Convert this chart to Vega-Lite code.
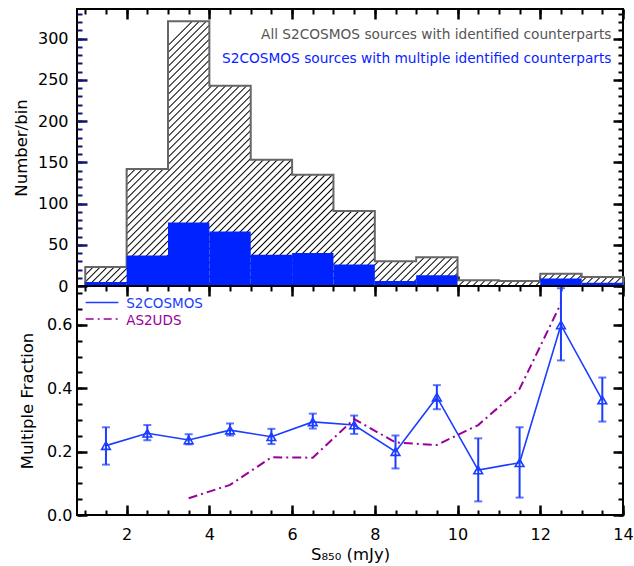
{
  "$schema": "https://vega.github.io/schema/vega-lite/v6.json",
  "padding": {"left": 12, "top": 6, "right": 0, "bottom": 0},
  "config": {
    "view": {"stroke": "#000", "strokeWidth": 2},
    "font": "DejaVu Sans",
    "axis": {"domain": false, "ticks": true, "tickColor": "#000000", "tickWidth": 2, "tickOpacity": 1, "labelFont": "DejaVu Sans", "labelFontSize": 16, "labelColor": "#000", "titleFont": "DejaVu Sans", "titleFontSize": 16.5, "titleFontWeight": "normal", "titleColor": "#000", "grid": false, "labelOverlap": false, "labelFlush": false}
  },
  "datasets": {
    "bins": [
      {"lo": 1, "hi": 2, "all": 23, "multi": 5},
      {"lo": 2, "hi": 3, "all": 142, "multi": 37},
      {"lo": 3, "hi": 4, "all": 321, "multi": 77},
      {"lo": 4, "hi": 5, "all": 243, "multi": 66},
      {"lo": 5, "hi": 6, "all": 153, "multi": 38},
      {"lo": 6, "hi": 7, "all": 135, "multi": 40},
      {"lo": 7, "hi": 8, "all": 91, "multi": 26},
      {"lo": 8, "hi": 9, "all": 30, "multi": 6},
      {"lo": 9, "hi": 10, "all": 35, "multi": 13},
      {"lo": 10, "hi": 11, "all": 7, "multi": 1},
      {"lo": 11, "hi": 12, "all": 6, "multi": 1},
      {"lo": 12, "hi": 13, "all": 15, "multi": 9},
      {"lo": 13, "hi": 14, "all": 11, "multi": 4}
    ],
    "frac": [
      {"s": 1.5, "f": 0.219, "lo": 0.159, "hi": 0.277},
      {"s": 2.5, "f": 0.258, "lo": 0.236, "hi": 0.284},
      {"s": 3.5, "f": 0.237, "lo": 0.223, "hi": 0.255},
      {"s": 4.5, "f": 0.268, "lo": 0.251, "hi": 0.289},
      {"s": 5.5, "f": 0.247, "lo": 0.224, "hi": 0.272},
      {"s": 6.5, "f": 0.294, "lo": 0.273, "hi": 0.320},
      {"s": 7.5, "f": 0.284, "lo": 0.256, "hi": 0.314},
      {"s": 8.5, "f": 0.200, "lo": 0.147, "hi": 0.251},
      {"s": 9.5, "f": 0.372, "lo": 0.334, "hi": 0.410},
      {"s": 10.5, "f": 0.142, "lo": 0.043, "hi": 0.242},
      {"s": 11.5, "f": 0.165, "lo": 0.055, "hi": 0.277},
      {"s": 12.5, "f": 0.600, "lo": 0.488, "hi": 0.716},
      {"s": 13.5, "f": 0.363, "lo": 0.295, "hi": 0.434}
    ],
    "uds": [
      {"s": 3.5, "f": 0.053},
      {"s": 4.5, "f": 0.095},
      {"s": 5.5, "f": 0.182},
      {"s": 6.5, "f": 0.181},
      {"s": 7.5, "f": 0.303},
      {"s": 8.5, "f": 0.229},
      {"s": 9.5, "f": 0.221},
      {"s": 10.5, "f": 0.284},
      {"s": 11.5, "f": 0.398},
      {"s": 12.5, "f": 0.668}
    ]
  },
  "spacing": 0,
  "bounds": "flush",
  "vconcat": [
    {
      "width": 546,
      "height": 277,
      "resolve": {"axis": {"x": "independent", "y": "independent"}},
      "layer": [
        {
          "data": {"name": "bins"},
          "transform": [
            {"fold": ["lo", "hi"], "as": ["edge", "xpos"]}
          ],
          "mark": {
            "type": "area",
            "stroke": "#666666",
            "strokeWidth": 2,
            "fill": {
              "gradient": "linear", "x1": 0.155, "y1": 0.076, "x2": 1.201, "y2": 0.591,
              "stops": [
{"offset":0.003,"color":"#fff"},{"offset":0.005,"color":"#000"},{"offset":0.007,"color":"#fff"},
{"offset":0.013,"color":"#fff"},{"offset":0.015,"color":"#000"},{"offset":0.017,"color":"#fff"},
{"offset":0.023,"color":"#fff"},{"offset":0.025,"color":"#000"},{"offset":0.027,"color":"#fff"},
{"offset":0.033,"color":"#fff"},{"offset":0.035,"color":"#000"},{"offset":0.037,"color":"#fff"},
{"offset":0.043,"color":"#fff"},{"offset":0.045,"color":"#000"},{"offset":0.047,"color":"#fff"},
{"offset":0.053,"color":"#fff"},{"offset":0.055,"color":"#000"},{"offset":0.057,"color":"#fff"},
{"offset":0.063,"color":"#fff"},{"offset":0.065,"color":"#000"},{"offset":0.067,"color":"#fff"},
{"offset":0.073,"color":"#fff"},{"offset":0.075,"color":"#000"},{"offset":0.077,"color":"#fff"},
{"offset":0.083,"color":"#fff"},{"offset":0.085,"color":"#000"},{"offset":0.087,"color":"#fff"},
{"offset":0.093,"color":"#fff"},{"offset":0.095,"color":"#000"},{"offset":0.097,"color":"#fff"},
{"offset":0.103,"color":"#fff"},{"offset":0.105,"color":"#000"},{"offset":0.107,"color":"#fff"},
{"offset":0.113,"color":"#fff"},{"offset":0.115,"color":"#000"},{"offset":0.117,"color":"#fff"},
{"offset":0.123,"color":"#fff"},{"offset":0.125,"color":"#000"},{"offset":0.127,"color":"#fff"},
{"offset":0.133,"color":"#fff"},{"offset":0.135,"color":"#000"},{"offset":0.137,"color":"#fff"},
{"offset":0.143,"color":"#fff"},{"offset":0.145,"color":"#000"},{"offset":0.147,"color":"#fff"},
{"offset":0.153,"color":"#fff"},{"offset":0.155,"color":"#000"},{"offset":0.157,"color":"#fff"},
{"offset":0.163,"color":"#fff"},{"offset":0.165,"color":"#000"},{"offset":0.167,"color":"#fff"},
{"offset":0.173,"color":"#fff"},{"offset":0.175,"color":"#000"},{"offset":0.177,"color":"#fff"},
{"offset":0.183,"color":"#fff"},{"offset":0.185,"color":"#000"},{"offset":0.187,"color":"#fff"},
{"offset":0.193,"color":"#fff"},{"offset":0.195,"color":"#000"},{"offset":0.197,"color":"#fff"},
{"offset":0.203,"color":"#fff"},{"offset":0.205,"color":"#000"},{"offset":0.207,"color":"#fff"},
{"offset":0.213,"color":"#fff"},{"offset":0.215,"color":"#000"},{"offset":0.217,"color":"#fff"},
{"offset":0.223,"color":"#fff"},{"offset":0.225,"color":"#000"},{"offset":0.227,"color":"#fff"},
{"offset":0.233,"color":"#fff"},{"offset":0.235,"color":"#000"},{"offset":0.237,"color":"#fff"},
{"offset":0.243,"color":"#fff"},{"offset":0.245,"color":"#000"},{"offset":0.247,"color":"#fff"},
{"offset":0.253,"color":"#fff"},{"offset":0.255,"color":"#000"},{"offset":0.257,"color":"#fff"},
{"offset":0.263,"color":"#fff"},{"offset":0.265,"color":"#000"},{"offset":0.267,"color":"#fff"},
{"offset":0.273,"color":"#fff"},{"offset":0.275,"color":"#000"},{"offset":0.277,"color":"#fff"},
{"offset":0.283,"color":"#fff"},{"offset":0.285,"color":"#000"},{"offset":0.287,"color":"#fff"},
{"offset":0.293,"color":"#fff"},{"offset":0.295,"color":"#000"},{"offset":0.297,"color":"#fff"},
{"offset":0.303,"color":"#fff"},{"offset":0.305,"color":"#000"},{"offset":0.307,"color":"#fff"},
{"offset":0.313,"color":"#fff"},{"offset":0.315,"color":"#000"},{"offset":0.317,"color":"#fff"},
{"offset":0.323,"color":"#fff"},{"offset":0.325,"color":"#000"},{"offset":0.327,"color":"#fff"},
{"offset":0.333,"color":"#fff"},{"offset":0.335,"color":"#000"},{"offset":0.337,"color":"#fff"},
{"offset":0.343,"color":"#fff"},{"offset":0.345,"color":"#000"},{"offset":0.347,"color":"#fff"},
{"offset":0.353,"color":"#fff"},{"offset":0.355,"color":"#000"},{"offset":0.357,"color":"#fff"},
{"offset":0.363,"color":"#fff"},{"offset":0.365,"color":"#000"},{"offset":0.367,"color":"#fff"},
{"offset":0.373,"color":"#fff"},{"offset":0.375,"color":"#000"},{"offset":0.377,"color":"#fff"},
{"offset":0.383,"color":"#fff"},{"offset":0.385,"color":"#000"},{"offset":0.387,"color":"#fff"},
{"offset":0.393,"color":"#fff"},{"offset":0.395,"color":"#000"},{"offset":0.397,"color":"#fff"},
{"offset":0.403,"color":"#fff"},{"offset":0.405,"color":"#000"},{"offset":0.407,"color":"#fff"},
{"offset":0.413,"color":"#fff"},{"offset":0.415,"color":"#000"},{"offset":0.417,"color":"#fff"},
{"offset":0.423,"color":"#fff"},{"offset":0.425,"color":"#000"},{"offset":0.427,"color":"#fff"},
{"offset":0.433,"color":"#fff"},{"offset":0.435,"color":"#000"},{"offset":0.437,"color":"#fff"},
{"offset":0.443,"color":"#fff"},{"offset":0.445,"color":"#000"},{"offset":0.447,"color":"#fff"},
{"offset":0.453,"color":"#fff"},{"offset":0.455,"color":"#000"},{"offset":0.457,"color":"#fff"},
{"offset":0.463,"color":"#fff"},{"offset":0.465,"color":"#000"},{"offset":0.467,"color":"#fff"},
{"offset":0.473,"color":"#fff"},{"offset":0.475,"color":"#000"},{"offset":0.477,"color":"#fff"},
{"offset":0.483,"color":"#fff"},{"offset":0.485,"color":"#000"},{"offset":0.487,"color":"#fff"},
{"offset":0.493,"color":"#fff"},{"offset":0.495,"color":"#000"},{"offset":0.497,"color":"#fff"},
{"offset":0.503,"color":"#fff"},{"offset":0.505,"color":"#000"},{"offset":0.507,"color":"#fff"},
{"offset":0.513,"color":"#fff"},{"offset":0.515,"color":"#000"},{"offset":0.517,"color":"#fff"},
{"offset":0.523,"color":"#fff"},{"offset":0.525,"color":"#000"},{"offset":0.527,"color":"#fff"},
{"offset":0.533,"color":"#fff"},{"offset":0.535,"color":"#000"},{"offset":0.537,"color":"#fff"},
{"offset":0.543,"color":"#fff"},{"offset":0.545,"color":"#000"},{"offset":0.547,"color":"#fff"},
{"offset":0.553,"color":"#fff"},{"offset":0.555,"color":"#000"},{"offset":0.557,"color":"#fff"},
{"offset":0.563,"color":"#fff"},{"offset":0.565,"color":"#000"},{"offset":0.567,"color":"#fff"},
{"offset":0.573,"color":"#fff"},{"offset":0.575,"color":"#000"},{"offset":0.577,"color":"#fff"},
{"offset":0.583,"color":"#fff"},{"offset":0.585,"color":"#000"},{"offset":0.587,"color":"#fff"},
{"offset":0.593,"color":"#fff"},{"offset":0.595,"color":"#000"},{"offset":0.597,"color":"#fff"},
{"offset":0.603,"color":"#fff"},{"offset":0.605,"color":"#000"},{"offset":0.607,"color":"#fff"},
{"offset":0.613,"color":"#fff"},{"offset":0.615,"color":"#000"},{"offset":0.617,"color":"#fff"},
{"offset":0.623,"color":"#fff"},{"offset":0.625,"color":"#000"},{"offset":0.627,"color":"#fff"},
{"offset":0.633,"color":"#fff"},{"offset":0.635,"color":"#000"},{"offset":0.637,"color":"#fff"},
{"offset":0.643,"color":"#fff"},{"offset":0.645,"color":"#000"},{"offset":0.647,"color":"#fff"},
{"offset":0.653,"color":"#fff"},{"offset":0.655,"color":"#000"},{"offset":0.657,"color":"#fff"},
{"offset":0.663,"color":"#fff"},{"offset":0.665,"color":"#000"},{"offset":0.667,"color":"#fff"},
{"offset":0.673,"color":"#fff"},{"offset":0.675,"color":"#000"},{"offset":0.677,"color":"#fff"},
{"offset":0.683,"color":"#fff"},{"offset":0.685,"color":"#000"},{"offset":0.687,"color":"#fff"},
{"offset":0.693,"color":"#fff"},{"offset":0.695,"color":"#000"},{"offset":0.697,"color":"#fff"},
{"offset":0.703,"color":"#fff"},{"offset":0.705,"color":"#000"},{"offset":0.707,"color":"#fff"},
{"offset":0.713,"color":"#fff"},{"offset":0.715,"color":"#000"},{"offset":0.717,"color":"#fff"},
{"offset":0.723,"color":"#fff"},{"offset":0.725,"color":"#000"},{"offset":0.727,"color":"#fff"},
{"offset":0.733,"color":"#fff"},{"offset":0.735,"color":"#000"},{"offset":0.737,"color":"#fff"},
{"offset":0.743,"color":"#fff"},{"offset":0.745,"color":"#000"},{"offset":0.747,"color":"#fff"},
{"offset":0.753,"color":"#fff"},{"offset":0.755,"color":"#000"},{"offset":0.757,"color":"#fff"},
{"offset":0.763,"color":"#fff"},{"offset":0.765,"color":"#000"},{"offset":0.767,"color":"#fff"},
{"offset":0.773,"color":"#fff"},{"offset":0.775,"color":"#000"},{"offset":0.777,"color":"#fff"},
{"offset":0.783,"color":"#fff"},{"offset":0.785,"color":"#000"},{"offset":0.787,"color":"#fff"},
{"offset":0.793,"color":"#fff"},{"offset":0.795,"color":"#000"},{"offset":0.797,"color":"#fff"},
{"offset":0.803,"color":"#fff"},{"offset":0.805,"color":"#000"},{"offset":0.807,"color":"#fff"},
{"offset":0.813,"color":"#fff"},{"offset":0.815,"color":"#000"},{"offset":0.817,"color":"#fff"},
{"offset":0.823,"color":"#fff"},{"offset":0.825,"color":"#000"},{"offset":0.827,"color":"#fff"},
{"offset":0.833,"color":"#fff"},{"offset":0.835,"color":"#000"},{"offset":0.837,"color":"#fff"},
{"offset":0.843,"color":"#fff"},{"offset":0.845,"color":"#000"},{"offset":0.847,"color":"#fff"},
{"offset":0.853,"color":"#fff"},{"offset":0.855,"color":"#000"},{"offset":0.857,"color":"#fff"},
{"offset":0.863,"color":"#fff"},{"offset":0.865,"color":"#000"},{"offset":0.867,"color":"#fff"},
{"offset":0.873,"color":"#fff"},{"offset":0.875,"color":"#000"},{"offset":0.877,"color":"#fff"},
{"offset":0.883,"color":"#fff"},{"offset":0.885,"color":"#000"},{"offset":0.887,"color":"#fff"},
{"offset":0.893,"color":"#fff"},{"offset":0.895,"color":"#000"},{"offset":0.897,"color":"#fff"},
{"offset":0.903,"color":"#fff"},{"offset":0.905,"color":"#000"},{"offset":0.907,"color":"#fff"},
{"offset":0.913,"color":"#fff"},{"offset":0.915,"color":"#000"},{"offset":0.917,"color":"#fff"},
{"offset":0.923,"color":"#fff"},{"offset":0.925,"color":"#000"},{"offset":0.927,"color":"#fff"},
{"offset":0.933,"color":"#fff"},{"offset":0.935,"color":"#000"},{"offset":0.937,"color":"#fff"},
{"offset":0.943,"color":"#fff"},{"offset":0.945,"color":"#000"},{"offset":0.947,"color":"#fff"},
{"offset":0.953,"color":"#fff"},{"offset":0.955,"color":"#000"},{"offset":0.957,"color":"#fff"},
{"offset":0.963,"color":"#fff"},{"offset":0.965,"color":"#000"},{"offset":0.967,"color":"#fff"},
{"offset":0.973,"color":"#fff"},{"offset":0.975,"color":"#000"},{"offset":0.977,"color":"#fff"},
{"offset":0.983,"color":"#fff"},{"offset":0.985,"color":"#000"},{"offset":0.987,"color":"#fff"},
{"offset":0.993,"color":"#fff"},{"offset":0.995,"color":"#000"},{"offset":0.997,"color":"#fff"}
              ]
            }
          },
          "encoding": {
            "x": {"field": "xpos", "type": "quantitative",
              "scale": {"domain": [0.8, 14], "nice": false, "zero": false},
              "axis": {"orient": "bottom", "title": null, "labels": false, "ticks": true, "tickColor": "#000000", "tickWidth": 2.5, "tickSize": 10, "offset": -10,
                "values": [2,4,6,8,10,12,14]}},
            "y": {"field": "all", "type": "quantitative", "stack": null,
              "scale": {"domain": [0, 336], "nice": false},
              "axis": {"orient": "left", "title": "Number/bin", "titlePadding": 8, "labelPadding": 9, "ticks": true, "tickColor": "#14146e", "tickWidth": 2.5, "tickSize": 10, "offset": -10,
                "values": [0,50,100,150,200,250,300]}}
          }
        },
        {
          "data": {"name": "bins"},
          "mark": {"type": "rect", "color": "#0022ff"},
          "encoding": {
            "x": {"field": "lo", "type": "quantitative",
              "scale": {"domain": [0.8, 14], "nice": false, "zero": false},
              "axis": {"orient": "bottom", "title": null, "labels": false, "ticks": true, "tickColor": "#000000", "tickWidth": 2, "tickSize": 5, "offset": -5,
                "values": [1,1.5,2,2.5,3,3.5,4,4.5,5,5.5,6,6.5,7,7.5,8,8.5,9,9.5,10,10.5,11,11.5,12,12.5,13,13.5,14]}},
            "x2": {"field": "hi"},
            "y": {"field": "multi", "type": "quantitative",
              "scale": {"domain": [0, 336], "nice": false},
              "axis": {"orient": "left", "title": null, "labels": false, "ticks": true, "tickColor": "#14146e", "tickWidth": 2, "tickSize": 5, "offset": -5,
                "values": [0,10,20,30,40,50,60,70,80,90,100,110,120,130,140,150,160,170,180,190,200,210,220,230,240,250,260,270,280,290,300,310,320,330]}},
            "y2": {"datum": 0}
          }
        },
        {
          "data": {"values": [{}]},
          "mark": {"type": "text", "align": "right", "baseline": "middle", "font": "DejaVu Sans", "fontSize": 13.7, "color": "#555555", "text": "All S2COSMOS sources with identified counterparts"},
          "encoding": {
            "x": {"datum": 13.72, "type": "quantitative",
              "axis": {"orient": "top", "title": null, "labels": false, "ticks": true, "tickColor": "#000000", "tickWidth": 2.5, "tickSize": 10, "offset": -10, "values": [2,4,6,8,10,12,14]}},
            "y": {"datum": 304.5, "type": "quantitative",
              "axis": {"orient": "right", "title": null, "labels": false, "ticks": true, "tickColor": "#000000", "tickWidth": 2.5, "tickSize": 10, "offset": -10, "values": [0,50,100,150,200,250,300]}}
          }
        },
        {
          "data": {"values": [{}]},
          "mark": {"type": "text", "align": "right", "baseline": "middle", "font": "DejaVu Sans", "fontSize": 13.7, "color": "#0a1eff", "text": "S2COSMOS sources with multiple identified counterparts"},
          "encoding": {
            "x": {"datum": 13.72, "type": "quantitative",
              "axis": {"orient": "top", "title": null, "labels": false, "ticks": true, "tickColor": "#000000", "tickWidth": 2, "tickSize": 5, "offset": -5,
                "values": [1,1.5,2,2.5,3,3.5,4,4.5,5,5.5,6,6.5,7,7.5,8,8.5,9,9.5,10,10.5,11,11.5,12,12.5,13,13.5,14]}},
            "y": {"datum": 275.7, "type": "quantitative",
              "axis": {"orient": "right", "title": null, "labels": false, "ticks": true, "tickColor": "#000000", "tickWidth": 2, "tickSize": 5, "offset": -5,
                "values": [0,10,20,30,40,50,60,70,80,90,100,110,120,130,140,150,160,170,180,190,200,210,220,230,240,250,260,270,280,290,300,310,320,330]}}
          }
        }
      ]
    },
    {
      "width": 546,
      "height": 229,
      "resolve": {"axis": {"x": "independent", "y": "independent"}},
      "layer": [
        {
          "data": {"name": "frac"},
          "mark": {"type": "line", "color": "#1a3dff", "strokeWidth": 1.6},
          "encoding": {
            "x": {"field": "s", "type": "quantitative",
              "scale": {"domain": [0.8, 14], "nice": false, "zero": false},
              "axis": {"orient": "bottom", "title": "S₈₅₀ (mJy)", "titlePadding": 4, "labelPadding": 11, "ticks": true, "tickColor": "#000000", "tickWidth": 2.5, "tickSize": 10, "offset": -10,
                "values": [2,4,6,8,10,12,14], "format": "d"}},
            "y": {"field": "f", "type": "quantitative",
              "scale": {"domain": [0, 0.723], "nice": false},
              "axis": {"orient": "left", "title": "Multiple Fraction", "titlePadding": 11, "labelPadding": 5, "ticks": true, "tickColor": "#000000", "tickWidth": 2.5, "tickSize": 10, "offset": -10,
                "values": [0, 0.2, 0.4, 0.6], "format": ".1f"}}
          }
        },
        {
          "data": {"name": "frac"},
          "mark": {"type": "rule", "color": "#1a3dff", "strokeWidth": 2},
          "encoding": {
            "x": {"field": "s", "type": "quantitative",
              "scale": {"domain": [0.8, 14], "nice": false, "zero": false},
              "axis": {"orient": "bottom", "title": null, "labels": false, "ticks": true, "tickColor": "#000000", "tickWidth": 2, "tickSize": 5, "offset": -5,
                "values": [1,1.5,2,2.5,3,3.5,4,4.5,5,5.5,6,6.5,7,7.5,8,8.5,9,9.5,10,10.5,11,11.5,12,12.5,13,13.5,14]}},
            "y": {"field": "lo", "type": "quantitative",
              "scale": {"domain": [0, 0.723], "nice": false},
              "axis": {"orient": "left", "title": null, "labels": false, "ticks": true, "tickColor": "#000000", "tickWidth": 2, "tickSize": 5, "offset": -5,
                "values": [0,0.05,0.1,0.15,0.2,0.25,0.3,0.35,0.4,0.45,0.5,0.55,0.6,0.65,0.7]}},
            "y2": {"field": "hi"}
          }
        },
        {
          "data": {"name": "frac"},
          "transform": [{"fold": ["lo", "hi"], "as": ["end", "v"]}],
          "mark": {"type": "tick", "orient": "horizontal", "color": "#1a3dff", "size": 8, "thickness": 2},
          "encoding": {
            "x": {"field": "s", "type": "quantitative",
              "axis": {"orient": "top", "title": null, "labels": false, "ticks": true, "tickColor": "#000000", "tickWidth": 2.5, "tickSize": 10, "offset": -10, "values": [2,4,6,8,10,12,14]}},
            "y": {"field": "v", "type": "quantitative",
              "axis": {"orient": "right", "title": null, "labels": false, "ticks": true, "tickColor": "#000000", "tickWidth": 2.5, "tickSize": 10, "offset": -10, "values": [0, 0.2, 0.4, 0.6]}}
          }
        },
        {
          "data": {"name": "frac"},
          "mark": {"type": "point", "shape": "triangle-up", "filled": false, "color": "#1a3dff", "strokeWidth": 1.6, "size": 75, "opacity": 1},
          "encoding": {
            "x": {"field": "s", "type": "quantitative",
              "axis": {"orient": "top", "title": null, "labels": false, "ticks": true, "tickColor": "#000000", "tickWidth": 2, "tickSize": 5, "offset": -5,
                "values": [1,1.5,2,2.5,3,3.5,4,4.5,5,5.5,6,6.5,7,7.5,8,8.5,9,9.5,10,10.5,11,11.5,12,12.5,13,13.5,14]}},
            "y": {"field": "f", "type": "quantitative",
              "axis": {"orient": "right", "title": null, "labels": false, "ticks": true, "tickColor": "#000000", "tickWidth": 2, "tickSize": 5, "offset": -5,
                "values": [0,0.05,0.1,0.15,0.2,0.25,0.3,0.35,0.4,0.45,0.5,0.55,0.6,0.65,0.7]}}
          }
        },
        {
          "data": {"name": "uds"},
          "mark": {"type": "line", "color": "#990099", "strokeWidth": 2, "strokeDash": [9, 4, 2, 4]},
          "encoding": {
            "x": {"field": "s", "type": "quantitative", "axis": null},
            "y": {"field": "f", "type": "quantitative", "axis": null}
          }
        },
        {
          "data": {"values": [{}]},
          "mark": {"type": "rule", "color": "#1a3dff", "strokeWidth": 1.6},
          "encoding": {
            "x": {"datum": 1.01, "type": "quantitative", "axis": null},
            "x2": {"datum": 1.8},
            "y": {"datum": 0.671, "type": "quantitative", "axis": null}
          }
        },
        {
          "data": {"values": [{}]},
          "mark": {"type": "rule", "color": "#990099", "strokeWidth": 1.6, "strokeDash": [8, 4, 2, 4]},
          "encoding": {
            "x": {"datum": 1.01, "type": "quantitative", "axis": null},
            "x2": {"datum": 1.8},
            "y": {"datum": 0.619, "type": "quantitative", "axis": null}
          }
        },
        {
          "data": {"values": [{}]},
          "mark": {"type": "text", "align": "left", "baseline": "middle", "font": "DejaVu Sans", "fontSize": 13.5, "color": "#1a3dff", "text": "S2COSMOS"},
          "encoding": {
            "x": {"datum": 1.99, "type": "quantitative", "axis": null},
            "y": {"datum": 0.665, "type": "quantitative", "axis": null}
          }
        },
        {
          "data": {"values": [{}]},
          "mark": {"type": "text", "align": "left", "baseline": "middle", "font": "DejaVu Sans", "fontSize": 13.5, "color": "#990099", "text": "AS2UDS"},
          "encoding": {
            "x": {"datum": 1.99, "type": "quantitative", "axis": null},
            "y": {"datum": 0.613, "type": "quantitative", "axis": null}
          }
        }
      ]
    }
  ]
}
